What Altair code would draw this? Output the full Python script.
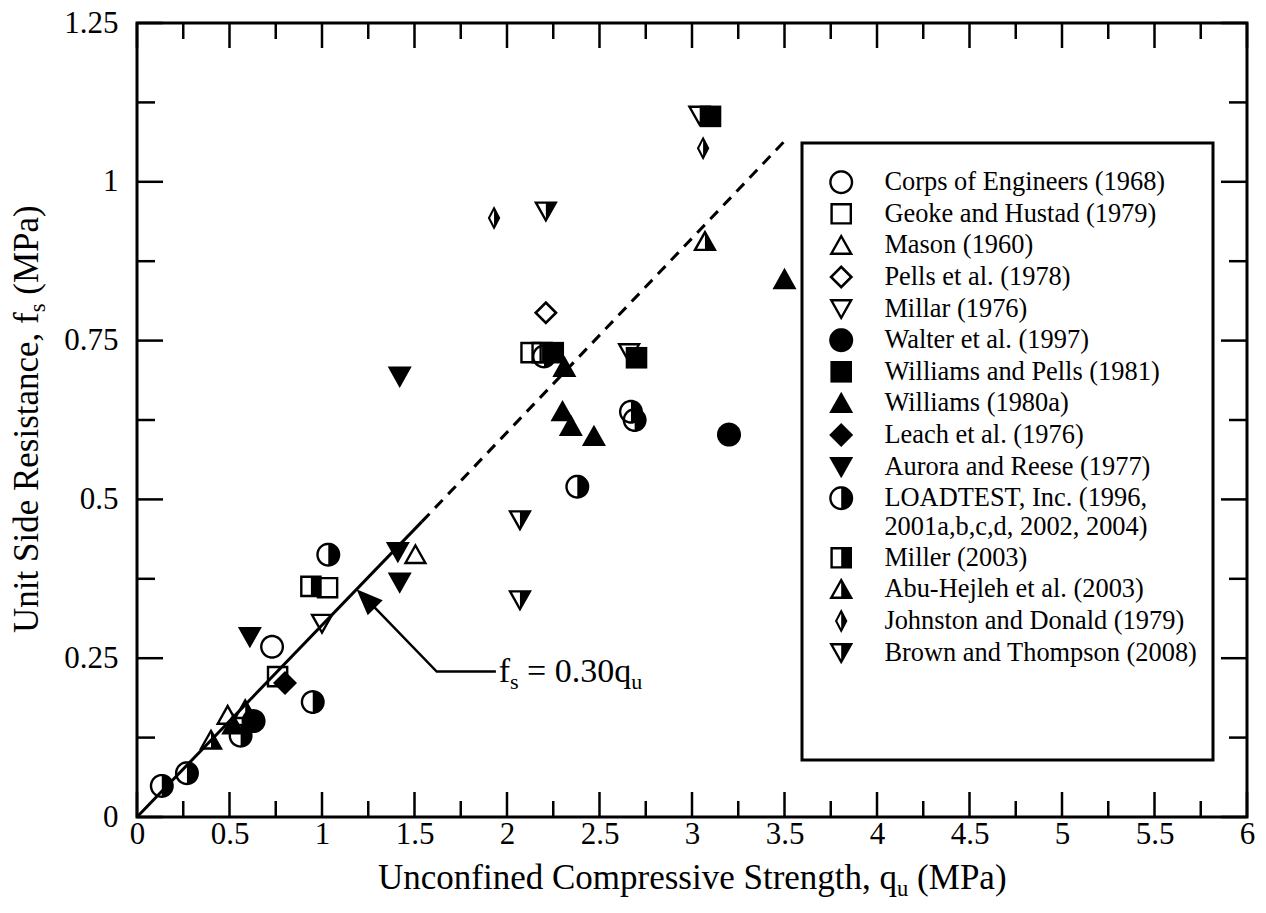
import math
import altair as alt
import pandas as pd

FONT = "Liberation Serif"

# ---------------- data ----------------
series_names = [
    "Corps of Engineers (1968)",
    "Geoke and Hustad (1979)",
    "Mason (1960)",
    "Pells et al. (1978)",
    "Millar (1976)",
    "Walter et al. (1997)",
    "Williams and Pells (1981)",
    "Williams (1980a)",
    "Leach et al. (1976)",
    "Aurora and Reese (1977)",
    "LOADTEST, Inc. (1996,|2001a,b,c,d, 2002, 2004)",
    "Miller (2003)",
    "Abu-Hejleh et al. (2003)",
    "Johnston and Donald (1979)",
    "Brown and Thompson (2008)",
]

corps_qu = [0.73]
corps_fs = [0.268]
geoke_qu = [0.76, 1.03, 2.13]
geoke_fs = [0.221, 0.361, 0.731]
mason_qu = [1.505, 0.49]
mason_fs = [0.413, 0.16]
pells_qu = [2.21]
pells_fs = [0.794]
millar_qu = [1.0, 3.04, 2.66]
millar_fs = [0.305, 1.105, 0.731]
walter_qu = [3.2, 0.63]
walter_fs = [0.602, 0.151]
wpells_qu = [3.10, 2.70, 2.25]
wpells_fs = [1.103, 0.723, 0.731]
williams_qu = [2.31, 2.30, 2.345, 2.47, 3.5, 0.52]
williams_fs = [0.708, 0.638, 0.615, 0.599, 0.846, 0.145]
leach_qu = [0.80]
leach_fs = [0.211]
aurora_qu = [1.42, 1.41, 1.42, 0.61]
aurora_fs = [0.694, 0.418, 0.370, 0.284]
loadtest_qu = [0.134, 0.27, 0.56, 0.95, 1.034, 2.20, 2.38, 2.67, 2.69]
loadtest_fs = [0.049, 0.069, 0.128, 0.181, 0.413, 0.725, 0.520, 0.638, 0.625]
miller_qu = [0.94, 2.19]
miller_fs = [0.363, 0.731]
abu_qu = [3.07, 0.40, 0.585]
abu_fs = [0.906, 0.121, 0.169]
johnston_qu = [1.93, 3.06]
johnston_fs = [0.943, 1.053]
brown_qu = [2.21, 2.07, 2.07]
brown_fs = [0.954, 0.468, 0.342]

series_qu = [corps_qu, geoke_qu, mason_qu, pells_qu, millar_qu, walter_qu, wpells_qu,
             williams_qu, leach_qu, aurora_qu, loadtest_qu, miller_qu, abu_qu,
             johnston_qu, brown_qu]
series_fs = [corps_fs, geoke_fs, mason_fs, pells_fs, millar_fs, walter_fs, wpells_fs,
             williams_fs, leach_fs, aurora_fs, loadtest_fs, miller_fs, abu_fs,
             johnston_fs, brown_fs]

# trend line fs = 0.30 qu (solid part, dashed extension)
solid_qu = [0.0, 1.54]
solid_fs = [0.0, 0.465]
dash_qu = [1.54, 3.52]
dash_fs = [0.465, 1.07]

# annotation arrow (elbow leader) and label
arrow_qu = [1.94, 1.62, 1.237]
arrow_fs = [0.229, 0.229, 0.344]
head_qu = [1.237]
head_fs = [0.344]
label_qu = [1.955]
label_fs = [0.213]

x_major = [0, 0.5, 1, 1.5, 2, 2.5, 3, 3.5, 4, 4.5, 5, 5.5, 6]
x_minor = [0.25, 0.75, 1.25, 1.75, 2.25, 2.75, 3.25, 3.75, 4.25, 4.75, 5.25, 5.75]
y_major = [0, 0.25, 0.5, 0.75, 1, 1.25]
y_minor = [0.125, 0.375, 0.625, 0.875, 1.125]

# ---------------- marker geometry ----------------
def circle_pts(n=48, r=1.0):
    return [(r * math.cos(2 * math.pi * i / n), r * math.sin(2 * math.pi * i / n)) for i in range(n)]

def signed_area(p):
    n = len(p)
    return 0.5 * sum(p[i][0] * p[(i + 1) % n][1] - p[(i + 1) % n][0] * p[i][1] for i in range(n))

def scale_about(p, c, k):
    return [(c[0] + (x - c[0]) * k, c[1] + (y - c[1]) * k) for x, y in p]

def clip_x_max(p, xm):
    out = []
    n = len(p)
    for i in range(n):
        a = p[i]
        b = p[(i + 1) % n]
        ain = a[0] <= xm
        bin_ = b[0] <= xm
        if ain:
            out.append(a)
        if ain != bin_:
            t = (xm - a[0]) / (b[0] - a[0])
            out.append((xm, a[1] + t * (b[1] - a[1])))
    return out

def to_path(polys):
    s = []
    for p in polys:
        s.append("M" + " L".join(f"{x:.3f},{y:.3f}" for x, y in p) + " Z")
    return " ".join(s)

def tri_incircle(p):
    A, B, C = p
    a = math.dist(B, C)
    b = math.dist(C, A)
    c = math.dist(A, B)
    per = a + b + c
    cx = (a * A[0] + b * B[0] + c * C[0]) / per
    cy = (a * A[1] + b * B[1] + c * C[1]) / per
    r = 2 * abs(signed_area(p)) / per
    return (cx, cy), r

def make(outer, center, inradius, mode, t=0.2):
    if mode == "filled":
        return to_path([outer])
    k = (inradius - t) / inradius
    hole = scale_about(outer, center, k)
    if mode == "half":
        hole = clip_x_max(hole, 0.0)
    if signed_area(hole) * signed_area(outer) > 0:
        hole = hole[::-1]
    return to_path([outer, hole])

circ = circle_pts()
sq = [(-0.9, -0.9), (0.9, -0.9), (0.9, 0.9), (-0.9, 0.9)]
up = [(0.0, -0.98), (1.0, 0.8), (-1.0, 0.8)]
down = [(0.0, 0.98), (-1.0, -0.8), (1.0, -0.8)]
dia = [(0.0, -1.0), (1.0, 0.0), (0.0, 1.0), (-1.0, 0.0)]
thin = [(0.0, -1.0), (0.52, 0.0), (0.0, 1.0), (-0.52, 0.0)]
up_c, up_r = tri_incircle(up)
dn_c, dn_r = tri_incircle(down)
thin_r = 0.52 * 1.0 / math.hypot(0.52, 1.0)

shape_paths = [
    make(circ, (0, 0), 1.0, "open"),
    make(sq, (0, 0), 0.9, "open"),
    make(up, up_c, up_r, "open"),
    make(dia, (0, 0), 1 / math.sqrt(2), "open", 0.22),
    make(down, dn_c, dn_r, "open"),
    make(circ, (0, 0), 1.0, "filled"),
    make(sq, (0, 0), 0.9, "filled"),
    make(up, up_c, up_r, "filled"),
    make(dia, (0, 0), 1 / math.sqrt(2), "filled"),
    make(down, dn_c, dn_r, "filled"),
    make(circ, (0, 0), 1.0, "half"),
    make(sq, (0, 0), 0.9, "half"),
    make(up, up_c, up_r, "half"),
    make(thin, (0, 0), thin_r, "half", 0.17),
    make(down, dn_c, dn_r, "half"),
]
arrow_head_path = "M0,-1 L0.8,1 L-0.8,1 Z"

# ---------------- tables ----------------
rows = []
for name, qs, fs in zip(series_names, series_qu, series_fs):
    for q, f in zip(qs, fs):
        rows.append({"series": name, "qu": q, "fs": f})
df_pts = pd.DataFrame(rows)
df_solid = pd.DataFrame({"qu": solid_qu, "fs": solid_fs})
df_dash = pd.DataFrame({"qu": dash_qu, "fs": dash_fs})
df_arrow = pd.DataFrame({"qu": arrow_qu, "fs": arrow_fs, "o": list(range(len(arrow_qu)))})
df_head = pd.DataFrame({"qu": head_qu, "fs": head_fs})
df_label = pd.DataFrame({"qu": label_qu, "fs": label_fs})
one = pd.DataFrame({"a": [0]})

W, H = 1110, 794
xs = alt.Scale(domain=[0, 6], nice=False, zero=False)
ys = alt.Scale(domain=[0, 1.25], nice=False, zero=False)
X = alt.X("qu:Q", scale=xs, title=None)
Y = alt.Y("fs:Q", scale=ys, title=None)

# Times (Liberation Serif) advance widths, per 1000 em
TW = {" ": 250, "U": 722, "n": 500, "c": 444, "o": 500, "f": 333, "i": 278, "e": 444,
      "d": 500, "C": 667, "m": 778, "p": 500, "r": 333, "s": 389, "v": 500, "S": 556,
      "t": 278, "g": 500, "h": 500, ",": 250, "q": 500, "(": 333, "M": 889, "P": 556,
      "a": 444, ")": 333, "R": 667, "=": 564, "0": 500, ".": 250, "3": 500, "u": 500}

def tw(s, size):
    return sum(TW[ch] for ch in s) * size / 1000.0

def text_run(parts, anchor_layer_fn):
    """Lay text pieces one after another (leading spaces become offsets)."""
    out = []
    off = 0.0
    for txt, size, dy in parts:
        stripped = txt.lstrip(" ")
        lead = tw(txt[: len(txt) - len(stripped)], size)
        out.append(anchor_layer_fn(stripped, size, off + lead, dy))
        off += tw(txt, size)
    return out

# ---------------- layers ----------------
def tick_layer(vals, axis, length):
    base = alt.Chart(pd.DataFrame({("qu" if axis in "bt" else "fs"): vals})).mark_rule(
        color="black", strokeWidth=2.5)
    if axis == "b":
        return base.encode(x=X, y=alt.value(H), y2=alt.value(H - length))
    if axis == "t":
        return base.encode(x=X, y=alt.value(0), y2=alt.value(length))
    if axis == "l":
        return base.encode(y=Y, x=alt.value(0), x2=alt.value(length))
    return base.encode(y=Y, x=alt.value(W), x2=alt.value(W - length))

ticks = []
for ax in "bt":
    ticks.append(tick_layer(x_major, ax, 25))
    ticks.append(tick_layer(x_minor, ax, 16))
for ax in "lr":
    ticks.append(tick_layer(y_major, ax, 26))
    ticks.append(tick_layer(y_minor, ax, 18))

solid = alt.Chart(df_solid).mark_line(color="black", strokeWidth=3).encode(x=X, y=Y)
dashed = alt.Chart(df_dash).mark_line(color="black", strokeWidth=3, strokeDash=[11, 8]).encode(x=X, y=Y)
arrow = alt.Chart(df_arrow).mark_line(color="black", strokeWidth=2.5).encode(x=X, y=Y, order="o:Q")
head = alt.Chart(df_head).mark_point(shape=arrow_head_path, filled=True, size=700, angle=315,
                                     color="black", opacity=1, strokeWidth=0).encode(x=X, y=Y)

legend_box = alt.Chart(one).mark_rect(fill="white", stroke="black", strokeWidth=3).encode(
    x=alt.value(665), x2=alt.value(1076), y=alt.value(120), y2=alt.value(737))

points = alt.Chart(df_pts).mark_point(filled=True, size=576, opacity=1, strokeWidth=0, color="black").encode(
    x=alt.X("qu:Q", scale=xs, title=None,
            axis=alt.Axis(values=x_major, format="~g", labelFlush=False, labelOverlap=False)),
    y=alt.Y("fs:Q", scale=ys, title=None,
            axis=alt.Axis(values=y_major, format="~g", labelOverlap=False)),
    shape=alt.Shape("series:N", scale=alt.Scale(domain=series_names, range=shape_paths),
                    legend=alt.Legend(title=None, orient="none", legendX=691, legendY=146,
                                      labelFont=FONT, labelFontSize=26.4, labelColor="black",
                                      symbolSize=576, symbolFillColor="black",
                                      symbolStrokeWidth=0, labelOffset=30, rowPadding=4.6,
                                      labelLimit=600, padding=0,
                                      labelExpr="split(datum.label, '|')")),
)

MAIN, SUB, DROP = 34, 22, 7
TMAIN, TSUB = 35, 22.5

# annotation  f_s = 0.30 q_u
ann = text_run(
    [("f", MAIN, 0), ("s", SUB, DROP), (" = 0.30q", MAIN, 0), ("u", SUB, DROP)],
    lambda t, size, dx, dy: alt.Chart(df_label).mark_text(
        text=t, font=FONT, fontSize=size, align="left", baseline="alphabetic",
        dx=dx, dy=dy, color="black").encode(x=X, y=Y))

# axis titles with subscripts
titles = text_run(
    [("Unconfined Compressive Strength, q", TMAIN, 0), ("u", TSUB, DROP), (" (MPa)", TMAIN, 0)],
    lambda t, size, dx, dy: alt.Chart(one).mark_text(
        text=t, font=FONT, fontSize=size, align="left", baseline="alphabetic",
        dx=dx, dy=dy, color="black").encode(x=alt.value(241), y=alt.value(866)))
titles += text_run(
    [("Unit Side Resistance, f", TMAIN, 0), ("s", TSUB, DROP), (" (MPa)", TMAIN, 0)],
    lambda t, size, dx, dy: alt.Chart(one).mark_text(
        text=t, font=FONT, fontSize=size, align="left", baseline="alphabetic", angle=270,
        dx=dx, dy=dy, color="black").encode(x=alt.value(-99), y=alt.value(610)))

chart = alt.layer(
    *ticks, solid, dashed, arrow, head, legend_box, points, *ann, *titles
).properties(
    width=W, height=H,
    background="white",
    padding={"left": 137, "top": 23, "right": 19, "bottom": 96},
    autosize=alt.AutoSizeParams(type="none"),
).configure_view(
    stroke="black", strokeWidth=3
).configure_axis(
    domain=False, grid=False, ticks=False, tickSize=0,
    labelFont=FONT, labelFontSize=31, labelColor="black",
).configure_axisX(
    labelPadding=2
).configure_axisY(
    labelPadding=19
)

chart.save("out.html", embed_options={"renderer": "svg", "actions": False})
